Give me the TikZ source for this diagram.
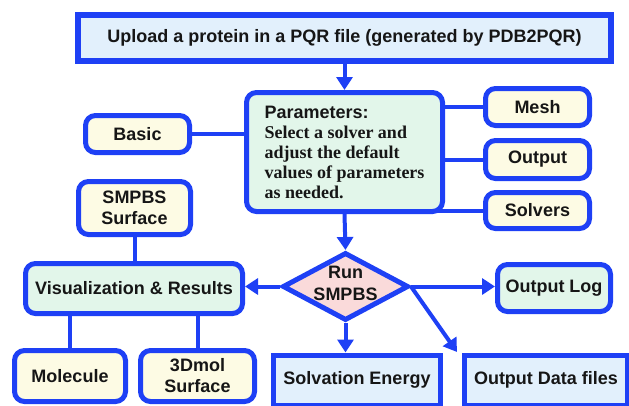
\documentclass[tikz,border=0pt]{standalone}
\usepackage{fontspec}
\setmainfont{Liberation Sans}
\newfontfamily\serifbold{Liberation Serif}
\usetikzlibrary{shapes.geometric,arrows.meta,backgrounds}

\definecolor{edgeblue}{RGB}{30,64,245}
\definecolor{ink}{RGB}{22,22,22}
\definecolor{fillblue}{RGB}{226,240,252}
\definecolor{fillgreen}{RGB}{226,246,234}
\definecolor{fillyellow}{RGB}{253,251,228}
\definecolor{fillpink}{RGB}{250,218,218}

\tikzset{
  basebox/.style={draw=edgeblue, line width=5pt, inner sep=0pt, text=ink,
    align=center, font=\fontsize{18}{21}\selectfont\bfseries},
  roundbox/.style={basebox, rounded corners=10pt},
  squarebox/.style={basebox, fill=fillblue},
  optbox/.style={roundbox, fill=fillyellow},
  greenbox/.style={roundbox, fill=fillgreen},
  link/.style={draw=edgeblue, line width=4pt},
  flow/.style={link, -{Triangle[length=13pt,width=16pt]}},
}

\begin{document}
\begin{tikzpicture}[x=1pt,y=-1pt]
\clip (0,0) rectangle (629,405);

% input
\node[squarebox, line width=6pt, minimum width=533, minimum height=46]
  (upload) at (344.5,38) {Upload a protein in a PQR file (generated by PDB2PQR)};

% parameter panel and its option groups
\node[greenbox, align=left, minimum width=196, minimum height=119,
  font=\fontsize{18}{20}\selectfont\bfseries]
  (param) at (344.5,152)
  {Parameters:\\{\serifbold Select a solver and}\\{\serifbold adjust the default}\\
   {\serifbold values of parameters}\\{\serifbold as needed.}};
\node[optbox, minimum width=104, minimum height=37] (mesh)    at (537.5,107)   {Mesh};
\node[optbox, minimum width=104, minimum height=38] (output)  at (537.5,159.5) {Output};
\node[optbox, minimum width=104, minimum height=36] (solvers) at (537.5,210.5) {Solvers};
\node[optbox, minimum width=104, minimum height=37] (basic)   at (137.5,134)   {Basic};

% solver step
\node[diamond, draw=edgeblue, line width=5pt, fill=fillpink, inner sep=0pt,
  minimum width=126, minimum height=68] (run) at (345.5,286.5) {};
\node[text=ink, align=center, font=\fontsize{18}{22}\selectfont\bfseries]
  (runlabel) at (345.5,283) {Run\\SMPBS};

% results side
\node[greenbox, minimum width=217, minimum height=50] (vis) at (134,288.5) {Visualization \& Results};
\node[optbox, minimum width=112, minimum height=53] (smpbs) at (134.5,208) {SMPBS\\Surface};
\node[optbox, minimum width=111, minimum height=51] (molecule) at (70,376) {Molecule};
\node[optbox, minimum width=114, minimum height=51] (dmol) at (197.5,376) {3Dmol\\Surface};

% outputs
\node[greenbox, minimum width=113, minimum height=47] (log) at (554,288) {Output Log};
\node[squarebox, minimum width=167, minimum height=50] (energy) at (357,380) {Solvation Energy};
\node[squarebox, minimum width=163, minimum height=50] (files) at (546,380) {Output Data files};
\coordinate (filestip) at (457,352);

% plain connectors, hidden behind the boxes they join
\begin{scope}[on background layer]
  \draw[link] (param.center |- mesh) -- (mesh.west);
  \draw[link] (param.center |- output) -- (output.west);
  \draw[link] (param.center |- solvers) -- (solvers.west);
  \draw[link] (basic.center) -- (param.center |- basic);
  \draw[link] (smpbs.center) -- (vis.center -| smpbs);
  \draw[link] (vis.center -| molecule) -- (molecule.center);
  \draw[link] (vis.center -| dmol) -- (dmol.center);
\end{scope}

% arrows
\draw[flow] (upload.south) -- (param.north);
\draw[flow] (param.south) -- (run.north);
\draw[flow] (run.west) -- (vis.east |- run.west);
\draw[flow] (run.east) -- (log.west |- run.east);
\draw[flow] (run.south) -- (run.south |- energy.north);
\draw[flow] (run.east) -- (filestip);
\end{tikzpicture}
\end{document}
